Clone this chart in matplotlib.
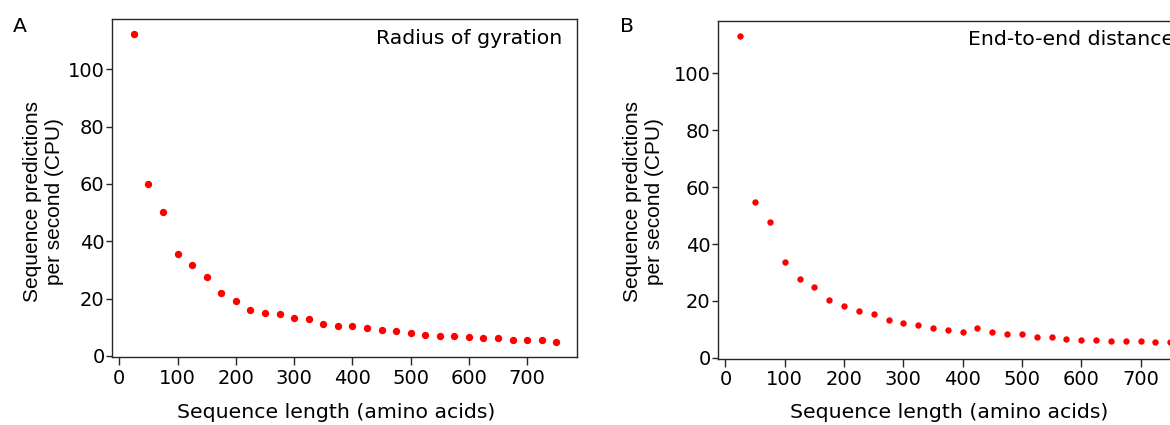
import numpy as np
import matplotlib
matplotlib.use('Agg')
import matplotlib.pyplot as plt

# the reference text is slightly wide, DejaVu Sans fits the horizontal text boxes best
plt.rcParams['font.family'] = ['DejaVu Sans']

# sequence length (amino acids)
seq_len = [25, 50, 75, 100, 125, 150, 175, 200, 225, 250, 275, 300, 325, 350, 375,
           400, 425, 450, 475, 500, 525, 550, 575, 600, 625, 650, 675, 700, 725, 750]

# predictions per second, radius of gyration model
rg_speed = [112.1, 60.0, 50.1, 35.6, 31.7, 27.4, 22.1, 19.2, 16.2, 15.0, 14.8, 13.4, 13.0, 11.0, 10.5,
            10.6, 9.8, 9.2, 8.7, 7.9, 7.4, 7.1, 7.0, 6.5, 6.4, 6.3, 5.7, 5.7, 5.5, 5.0]

# predictions per second, end-to-end distance model
ete_speed = [113.1, 54.7, 47.8, 33.8, 27.6, 24.8, 20.4, 18.1, 16.5, 15.5, 13.3, 12.1, 11.5, 10.5, 9.7,
             9.0, 10.4, 9.1, 8.3, 8.2, 7.4, 7.4, 6.7, 6.3, 6.2, 6.0, 6.0, 5.9, 5.5, 5.4]

xticks = [0, 100, 200, 300, 400, 500, 600, 700]
yticks = [0, 20, 40, 60, 80, 100]

FS = 14.7       # labels and panel text
TFS = 14        # tick labels
AXC = '#262626'
W, H = 1170, 425
fig = plt.figure(figsize=(W / 100, H / 100), dpi=100)


def px_axes(left, top, right, bottom):
    return fig.add_axes([left / W, 1 - bottom / H, (right - left) / W, (bottom - top) / H])


def ftext(x, y, s, **kw):
    # figure text placed in pixels from the top-left corner
    kw.setdefault('fontsize', FS)
    return fig.text(x / W, 1 - y / H, s, **kw)


def style(ax, ylim_top):
    for s in ax.spines.values():
        s.set_color(AXC)
        s.set_linewidth(1.0)
    ax.set_xlim(-12, 786)
    ax.set_ylim(-0.25, ylim_top)
    ax.set_xticks(xticks)
    ax.set_yticks(yticks)
    ax.tick_params(axis='x', length=5.5, width=1, color=AXC, pad=3, labelsize=TFS)
    ax.tick_params(axis='y', length=4, width=1, color=AXC, pad=1.5, labelsize=TFS)


ylab = 'Sequence predictions\nper second (CPU)'

# panel A
ax1 = px_axes(112.3, 19.3, 577.3, 356.7)
ax1.plot(seq_len, rg_speed, 'o', color='#ff0000', markersize=5.3, markeredgewidth=0)
style(ax1, 117.4)
ftext(13, 32, 'A', ha='left', va='baseline')
ftext(562, 44.5, 'Radius of gyration', ha='right', va='baseline')
ftext(336, 413, 'Sequence length (amino acids)', ha='center', va='center')
ftext(43.5, 201.5, ylab, ha='center', va='center', rotation=90, linespacing=1.2,
      family='Liberation Sans', fontsize=15)

# panel B (runs past the right edge, like the original crop)
ax2 = px_axes(718.3, 21.3, 1191.6, 358.5)
ax2.plot(seq_len, ete_speed, 'o', color='#ff0000', markersize=4.6, markeredgewidth=0)
style(ax2, 118.3)
ftext(620, 32, 'B', ha='left', va='baseline')
ftext(968, 45, 'End-to-end distance', ha='left', va='baseline')
ftext(949, 413, 'Sequence length (amino acids)', ha='center', va='center')
ftext(643, 202, ylab, ha='center', va='center', rotation=90, linespacing=1.2,
      family='Liberation Sans', fontsize=15)

fig.savefig('out.png', dpi=100)
